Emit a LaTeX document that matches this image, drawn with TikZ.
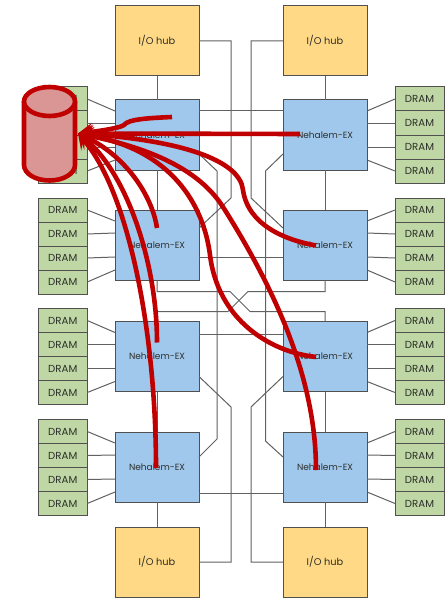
\documentclass[tikz,border=0pt]{standalone}
\usepackage{fontspec}
\setmainfont{Poppins}
\usetikzlibrary{arrows.meta,calc}
\definecolor{hubfill}{RGB}{255,217,133}
\definecolor{nehfill}{RGB}{160,200,236}
\definecolor{dramfill}{RGB}{190,215,165}
\definecolor{diskfill}{RGB}{217,150,148}
\definecolor{flowred}{RGB}{192,0,0}
\definecolor{edge}{RGB}{80,80,80}
\definecolor{inktext}{RGB}{45,47,42}

\begin{document}
\begin{tikzpicture}[
    x=1pt, y=-1pt,
    box/.style={draw=edge, line width=1pt, inner sep=0pt, outer sep=0pt, text=inktext},
    hub/.style={box, fill=hubfill, minimum width=84pt, minimum height=70pt, font=\fontsize{9.8}{11}\selectfont},
    neh/.style={box, fill=nehfill, minimum width=84pt, minimum height=70pt, font=\fontsize{9}{11}\selectfont},
    dram/.style={box, fill=dramfill, minimum width=49pt, minimum height=24pt, font=\fontsize{10.2}{11}\selectfont},
    wire/.style={draw=edge!90, line width=1pt},
    flow/.style={draw=flowred, line width=4.6pt, -{Stealth[length=15pt,width=18pt,inset=7pt]}},
    can/.style={draw=flowred, line width=4.6pt, fill=diskfill, line join=round}
]
\useasboundingbox (0,0) rectangle (446,599);

\node[hub] (hubLT) at (157,41) {I/O hub};
\node[hub] (hubRT) at (325,41) {I/O hub};
\node[neh] (nehL1) at (157,135) {Nehalem-EX};
\node[neh] (nehR1) at (325,135) {Nehalem-EX};
\node[neh] (nehL2) at (157,245) {Nehalem-EX};
\node[neh] (nehR2) at (325,245) {Nehalem-EX};
\node[neh] (nehL3) at (157,356.5) {Nehalem-EX};
\node[neh] (nehR3) at (325,356.5) {Nehalem-EX};
\node[neh] (nehL4) at (157,467) {Nehalem-EX};
\node[neh] (nehR4) at (325,467) {Nehalem-EX};
\node[hub] (hubLB) at (157,562) {I/O hub};
\node[hub] (hubRB) at (325,562) {I/O hub};

% memory stacks on both sides
\foreach \r/\ytop in {1/99,2/210,3/320.5,4/431.5} {
    \foreach \i/\k/\off in {a/0/11,b/1/23,c/2/47,d/3/60} {
        \node[dram] (dramL\r\i) at (62.75,{\ytop+24*\k}) {DRAM};
        \node[dram] (dramR\r\i) at (419.5,{\ytop+24*\k}) {DRAM};
        \draw[wire] (dramL\r\i.east) -- ($(nehL\r.north west)+(0,\off)$);
        \draw[wire] (dramR\r\i.west) -- ($(nehR\r.north east)+(0,\off)$);
    }
}

% hub to processor
\draw[wire] (hubLT) -- (nehL1);
\draw[wire] (hubRT) -- (nehR1);
\draw[wire] (nehL1) -- (nehL2);
\draw[wire] (nehR1) -- (nehR2);
\draw[wire] (nehL3) -- (nehL4);
\draw[wire] (nehR3) -- (nehR4);
\draw[wire] (nehL4) -- (hubLB);
\draw[wire] (nehR4) -- (hubRB);

% horizontal links
\draw[wire] ($(nehL1.north east)+(0,11)$) -- ($(nehR1.north west)+(0,11)$);
\draw[wire] ($(nehL2.north east)+(0,47)$) -- ($(nehR2.north west)+(0,47)$);
\draw[wire] ($(nehL3.north east)+(0,13)$) -- ($(nehR3.north west)+(0,13)$);
\draw[wire] ($(nehL4.north east)+(0,61)$) -- ($(nehR4.north west)+(0,61)$);

% long routes through the middle
\draw[wire] (hubLT.east) -- (231,41) -- (231,198) -- ($(nehL2.north east)+(0,18)$);
\draw[wire] (hubRT.west) -- (251,41) -- (251,198) -- ($(nehR2.north west)+(0,18)$);
\draw[wire] ($(nehL1.north east)+(0,54)$) -- (217,171) -- (217,439) -- ($(nehL4.north east)+(0,25)$);
\draw[wire] ($(nehR1.north west)+(0,54)$) -- (265.5,171) -- (265.5,441) -- ($(nehR4.north west)+(0,25)$);
\draw[wire] (hubLB.east) -- (231,562) -- (231,407) -- ($(nehL3.north east)+(0,55)$);
\draw[wire] (hubRB.west) -- (251,562) -- (251,407) -- ($(nehR3.north west)+(0,55)$);

% crossing between the two middle rows
\draw[wire] (nehL2.south) -- (157,291.5) -- (230,291.5) -- (250,311.5) -- (325,311.5) -- (nehR3.north);
\draw[wire] (nehL3.north) -- (157,311.5) -- (228,311.5) -- (248,291.5) -- (325,291.5) -- (nehR2.south);

% the store
\draw[can] (24,101.5) -- (24,165) arc[start angle=180, end angle=360, x radius=25.5pt, y radius=15.5pt] -- (75,101.5);
\draw[can] (49.5,101.5) ellipse[x radius=25.5pt, y radius=14.5pt];

% read paths into the store
\coordinate (srcL1) at ($(nehL1.center)+(15,-18)$);
\coordinate (srcR1) at ($(nehR1.center)+(-25,-1)$);
\coordinate (srcL2) at ($(nehL2.center)+(0,-17)$);
\coordinate (srcR2) at ($(nehR2.center)+(-9,0.5)$);
\coordinate (srcL3) at ($(nehL3.center)+(0,-14)$);
\coordinate (srcR3) at ($(nehR3.center)+(-9,0.5)$);
\coordinate (srcL4) at ($(nehL4.center)+(-1,1)$);
\coordinate (srcR4) at ($(nehR4.center)+(-9,3)$);
\coordinate (tip) at (78,133.5);

\draw[flow] (srcR1) -- (tip);
\draw[flow] (srcL1) .. controls (150,118) and (128,119) .. (124,125) .. controls (120,128) and (100,131) .. (tip);
\draw[flow] (srcL2) .. controls (152,195) and (125,155) .. (tip);
\draw[flow] (srcL3) .. controls (157,260) and (125,170) .. (tip);
\draw[flow] (srcL4) .. controls (156,330) and (128,190) .. (tip);
\draw[flow] (srcR2) .. controls (285,240) and (248,225) .. (243,190) .. controls (240,160) and (180,140) .. (tip);
\draw[flow] (srcR3) .. controls (270,352) and (218,320) .. (210,255) .. controls (205,215) and (180,150) .. (tip);
\draw[flow] (srcR4) .. controls (316,390) and (285,305) .. (223,207) .. controls (195,163) and (135,145) .. (tip);
\end{tikzpicture}
\end{document}
